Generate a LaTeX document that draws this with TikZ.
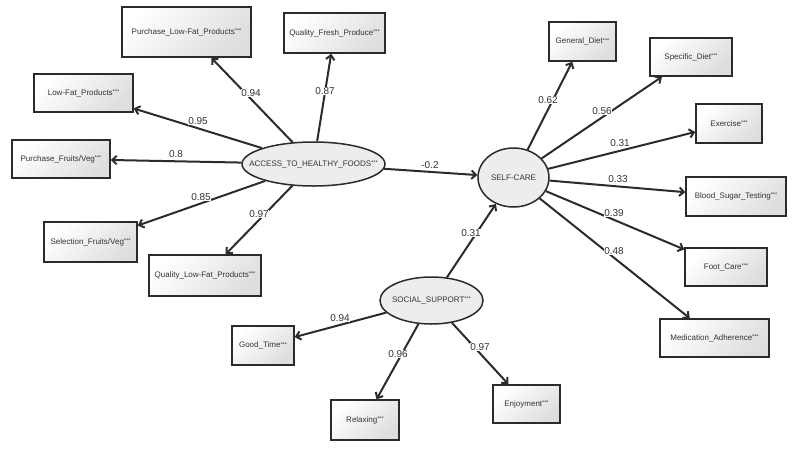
\documentclass[tikz,border=0pt]{standalone}
\usepackage{fontspec}
\setmainfont{Liberation Sans}
\usetikzlibrary{arrows.meta,shapes.geometric}
\definecolor{edge}{HTML}{2B2B2B}
\definecolor{txt}{HTML}{333333}
\newcommand{\stars}{\raisebox{1.6pt}{\fontsize{5.5}{6}\selectfont ***}}
\newcommand{\zw}[1]{\makebox[0pt]{#1}}
\begin{document}
\begin{tikzpicture}[x=1pt,y=-1pt,
 box/.style={draw=edge, line width=1.5pt, top color=white, bottom color=black!13, shading angle=45, inner sep=0pt, font=\fontsize{8}{9}\selectfont, text=txt},
 bx/.style 2 args={box, minimum width=#1pt, minimum height=#2pt},
 lat/.style 2 args={ellipse, draw=edge, line width=1.5pt, fill=black!7, inner sep=0pt, minimum width=#1pt, minimum height=#2pt, font=\fontsize{8}{9}\selectfont, text=txt},
 conn/.style={draw=edge, line width=2pt, -{Straight Barb[length=4.5pt,width=8.5pt]}},
 lbl/.style={fill=white, inner sep=0.6pt, font=\fontsize{10}{12}\selectfont, text=txt}
]
\useasboundingbox (0,0) rectangle (800,448);
% latent variables
\node[lat={143}{44}] (AHF) at (313.5,164) {\zw{ACCESS\_TO\_HEALTHY\_FOODS\stars}};
\node[lat={71}{59}] (SC) at (513.5,177.5) {\zw{SELF-CARE}};
\node[lat={103}{47}] (SS) at (431.5,300.5) {\zw{SOCIAL\_SUPPORT\stars}};
% indicators
\node[bx={129}{50}] (PLF) at (186.5,32) {Purchase\_Low-Fat\_Products\stars};
\node[bx={101}{40}] (QFP) at (334.5,33) {Quality\_Fresh\_Produce\stars};
\node[bx={99}{38}] (LFP) at (83.5,93) {Low-Fat\_Products\stars};
\node[bx={98}{38}] (PFV) at (61,159) {Purchase\_Fruits/Veg\stars};
\node[bx={93}{40}] (SFV) at (90.5,242) {Selection\_Fruits/Veg\stars};
\node[bx={112}{41}] (QLF) at (205,275.5) {Quality\_Low-Fat\_Products\stars};
\node[bx={62}{39}] (GT) at (263,345.5) {Good\_Time\stars};
\node[bx={68}{40}] (RLX) at (365,420) {Relaxing\stars};
\node[bx={67}{38}] (ENJ) at (526.5,404) {Enjoyment\stars};
\node[bx={67}{39}] (GD) at (582.5,41.5) {General\_Diet\stars};
\node[bx={82}{38}] (SD) at (691,57) {Specific\_Diet\stars};
\node[bx={66}{39}] (EX) at (729,123.5) {Exercise\stars};
\node[bx={100}{39}] (BST) at (736,196.5) {Blood\_Sugar\_Testing\stars};
\node[bx={82}{38}] (FC) at (726,267) {Foot\_Care\stars};
\node[bx={109}{38}] (MA) at (714.5,338) {Medication\_Adherence\stars};
% connectors
\draw[conn] (AHF) -- (PLF);
\draw[conn] (AHF) -- (QFP);
\draw[conn] (AHF) -- (LFP);
\draw[conn] (AHF) -- (PFV);
\draw[conn] (AHF) -- (SFV);
\draw[conn] (AHF) -- (QLF);
\draw[conn] (AHF) -- (SC);
\draw[conn] (SS) -- (SC);
\draw[conn] (SS) -- (GT);
\draw[conn] (SS) -- (RLX);
\draw[conn] (SS) -- (ENJ);
\draw[conn] (SC) -- (GD);
\draw[conn] (SC) -- (SD);
\draw[conn] (SC) -- (EX);
\draw[conn] (SC) -- (BST);
\draw[conn] (SC) -- (FC);
\draw[conn] (SC) -- (MA);
% labels
\node[lbl] (l1) at (251,93) {0.94};
\node[lbl] (l2) at (325,91) {0.87};
\node[lbl] (l3) at (198,121) {0.95};
\node[lbl] (l4) at (176,154) {0.8};
\node[lbl] (l5) at (201,197) {0.85};
\node[lbl] (l6) at (259,214) {0.97};
\node[lbl] (l7) at (430,165) {-0.2};
\node[lbl] (l8) at (548,100) {0.62};
\node[lbl] (l9) at (602,111) {0.56};
\node[lbl] (l10) at (620,143) {0.31};
\node[lbl] (l11) at (618,179) {0.33};
\node[lbl] (l12) at (614,213) {0.39};
\node[lbl] (l13) at (614,251) {0.48};
\node[lbl] (l14) at (471,233) {0.31};
\node[lbl] (l15) at (340,318) {0.94};
\node[lbl] (l16) at (398,354) {0.96};
\node[lbl] (l17) at (480,347) {0.97};
\end{tikzpicture}
\end{document}
